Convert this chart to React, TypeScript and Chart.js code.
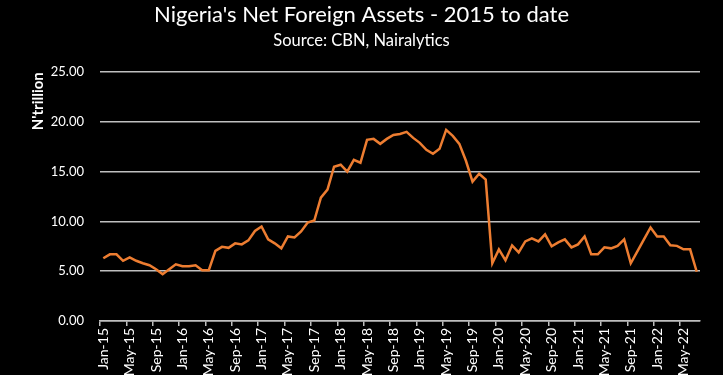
import React, { useEffect, useRef } from "react";
import { Chart, registerables } from "chart.js";

Chart.register(...registerables);

const MONTHS = ["Jan", "Feb", "Mar", "Apr", "May", "Jun", "Jul", "Aug", "Sep", "Oct", "Nov", "Dec"];
const YEARS = ["15", "16", "17", "18", "19", "20", "21", "22"];

const categories: string[] = [];
YEARS.forEach((y) => MONTHS.forEach((m) => categories.push(`${m}-${y}`)));
const labels = categories.slice(0, 91); // Jan-15 .. Jul-22

const netForeignAssets = [
  6.3, 6.7, 6.7, 6.05, 6.4, 6.05, 5.8, 5.6, 5.2, 4.7, 5.2, 5.7,
  5.5, 5.5, 5.6, 5.1, 5.1, 7.05, 7.45, 7.35, 7.8, 7.7, 8.1, 9.05,
  9.5, 8.2, 7.8, 7.3, 8.5, 8.4, 9.0, 9.9, 10.1, 12.4, 13.2, 15.5,
  15.7, 15.0, 16.2, 15.9, 18.2, 18.3, 17.8, 18.3, 18.7, 18.8, 19.0, 18.4,
  17.9, 17.2, 16.8, 17.3, 19.2, 18.6, 17.8, 16.1, 14.0, 14.8, 14.2, 5.8,
  7.2, 6.1, 7.6, 6.9, 8.0, 8.3, 8.0, 8.7, 7.5, 7.9, 8.2, 7.4,
  7.7, 8.5, 6.7, 6.7, 7.4, 7.3, 7.55, 8.2, 5.8, 7.0, 8.2, 9.4,
  8.5, 8.5, 7.6, 7.55, 7.2, 7.2, 4.95,
];

const yTicks = [0, 5, 10, 15, 20, 25];

export default function App() {
  const ref = useRef<HTMLCanvasElement | null>(null);

  useEffect(() => {
    document.body.style.margin = "0";
    document.body.style.background = "#000";
    const canvas = ref.current;
    if (!canvas) return;
    const gray = "#bfbfbf";
    const chart = new Chart(canvas, {
      type: "line",
      data: {
        labels,
        datasets: [
          {
            data: netForeignAssets,
            borderColor: "#ED7D31",
            borderWidth: 2.5,
            pointRadius: 0,
            tension: 0,
            fill: false,
          },
        ],
      },
      options: {
        animation: false,
        responsive: false,
        layout: { padding: 0 },
        plugins: {
          legend: { display: false },
          tooltip: { enabled: false },
          title: {
            display: true,
            text: "Nigeria's Net Foreign Assets - 2015 to date",
            color: "#ffffff",
            font: { family: "Lato", size: 22, weight: "normal" },
            padding: { top: 2, bottom: 2 },
          },
          subtitle: {
            display: true,
            text: "Source: CBN, Nairalytics",
            color: "#ffffff",
            font: { family: "Lato", size: 16.5, weight: "normal" },
            padding: { top: 0, bottom: 22 },
          },
        },
        scales: {
          x: {
            offset: true,
            border: { display: true, color: gray, width: 1.5 },
            grid: {
              display: true,
              offset: true,
              drawOnChartArea: false,
              drawTicks: true,
              tickLength: 5,
              lineWidth: 1.5,
              color: (ctx: any) => (ctx.index % 4 === 0 ? gray : "rgba(0,0,0,0)"),
            },
            ticks: {
              autoSkip: false,
              minRotation: 90,
              maxRotation: 90,
              color: "#ffffff",
              padding: 2,
              font: { family: "Lato", size: 14 },
              callback: (_v: any, i: number) => (i % 4 === 0 ? labels[i] : ""),
            },
            afterFit: (s: any) => {
              s.height = 54;
            },
          },
          y: {
            min: 0,
            max: 25,
            afterBuildTicks: (s: any) => {
              s.ticks = yTicks.map((v) => ({ value: v }));
            },
            border: { display: false },
            grid: { color: gray, lineWidth: 1.5, drawTicks: false },
            ticks: {
              color: "#ffffff",
              padding: 16,
              font: { family: "Lato", size: 13 },
              callback: (v: any) => Number(v).toFixed(2),
            },
            title: {
              display: true,
              text: "N'trillion",
              color: "#ffffff",
              align: "end",
              font: { family: "Lato", size: 15, weight: "bold" },
              padding: { top: 29, bottom: 0 },
            },
            afterFit: (s: any) => {
              s.width = 100;
            },
          },
          yRightSpace: {
            position: "right",
            display: true,
            border: { display: false },
            grid: { display: false, drawTicks: false },
            ticks: { display: false },
            afterFit: (s: any) => {
              s.width = 23;
            },
          },
        },
      },
    } as any);
    return () => chart.destroy();
  }, []);

  return (
    <div style={{ width: 723, height: 375, background: "#000" }}>
      <canvas ref={ref} width={723} height={375} style={{ display: "block" }} />
    </div>
  );
}
